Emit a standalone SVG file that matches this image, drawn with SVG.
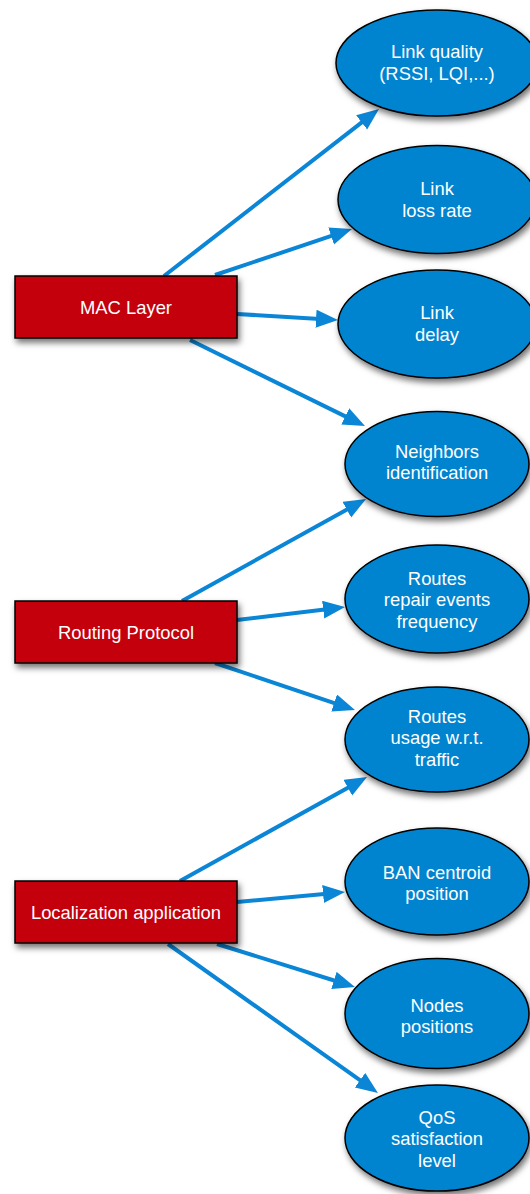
<svg xmlns="http://www.w3.org/2000/svg" width="530" height="1194" viewBox="0 0 530 1194">
  <defs>
    <filter id="shadow" x="-20%" y="-20%" width="140%" height="150%">
      <feDropShadow dx="2" dy="4" stdDeviation="3" flood-color="#000" flood-opacity="0.55"/>
    </filter>
    <marker id="arrow" markerUnits="userSpaceOnUse" markerWidth="24" markerHeight="20" refX="12" refY="9" orient="auto">
      <path d="M0,0 L22,9 L0,18 z" fill="#0b86d6"/>
    </marker>
  </defs>
  <style>
    .edge { stroke: #0b86d6; stroke-width: 4; fill: none; marker-end: url(#arrow); }
    .layer rect { fill: #c4000c; stroke: #000; stroke-width: 1.5; filter: url(#shadow); }
    .metric ellipse { fill: #0484d0; stroke: #000; stroke-width: 1.5; filter: url(#shadow); }
    text { font-family: "Liberation Sans", Arial, sans-serif; font-size: 18.4px; fill: #fff; text-anchor: middle; }
  </style>

  <!-- connectors: layer boxes to metric ellipses -->
  <g id="connectors">
    <line class="edge" x1="164" y1="276" x2="371.1" y2="115.1"/>
    <line class="edge" x1="215" y1="275" x2="342.5" y2="232.2"/>
    <line class="edge" x1="237" y1="314" x2="328.0" y2="319.4"/>
    <line class="edge" x1="190" y1="340" x2="356.0" y2="421.6"/>
    <line class="edge" x1="182" y1="601" x2="357.3" y2="503.8"/>
    <line class="edge" x1="237" y1="620" x2="335.1" y2="608.2"/>
    <line class="edge" x1="215" y1="663" x2="345.5" y2="706.8"/>
    <line class="edge" x1="180" y1="881" x2="358.3" y2="781.9"/>
    <line class="edge" x1="237" y1="902" x2="335.0" y2="892.9"/>
    <line class="edge" x1="217" y1="944" x2="345.4" y2="984.0"/>
    <line class="edge" x1="168" y1="944" x2="369.8" y2="1087.2"/>
  </g>

  <!-- layers -->
  <g id="mac-layer" class="layer">
    <rect x="15" y="276" width="222" height="62"/>
    <text x="126" y="313.5">MAC Layer</text>
  </g>
  <g id="routing-protocol" class="layer">
    <rect x="15" y="601" width="222" height="62"/>
    <text x="126" y="638.5">Routing Protocol</text>
  </g>
  <g id="localization-application" class="layer">
    <rect x="15" y="881" width="222" height="62"/>
    <text x="126" y="918.5">Localization application</text>
  </g>

  <!-- metrics -->
  <g id="link-quality" class="metric">
    <ellipse cx="437" cy="63" rx="101" ry="53"/>
    <text x="437" y="57.5">Link quality</text>
    <text x="437" y="79.5">(RSSI, LQI,...)</text>
  </g>
  <g id="link-loss-rate" class="metric">
    <ellipse cx="437" cy="199.5" rx="99" ry="54"/>
    <text x="437" y="194.5">Link</text>
    <text x="437" y="216.5">loss rate</text>
  </g>
  <g id="link-delay" class="metric">
    <ellipse cx="437" cy="324" rx="99" ry="54"/>
    <text x="437" y="318.5">Link</text>
    <text x="437" y="340.5">delay</text>
  </g>
  <g id="neighbors-identification" class="metric">
    <ellipse cx="437" cy="464" rx="92" ry="52.5"/>
    <text x="437" y="457.5">Neighbors</text>
    <text x="437" y="478.5">identification</text>
  </g>
  <g id="routes-repair" class="metric">
    <ellipse cx="437" cy="599" rx="92" ry="54"/>
    <text x="437" y="584.5">Routes</text>
    <text x="437" y="605.5">repair events</text>
    <text x="437" y="627.5">frequency</text>
  </g>
  <g id="routes-usage" class="metric">
    <ellipse cx="437" cy="739.5" rx="92" ry="52.5"/>
    <text x="437" y="722.5">Routes</text>
    <text x="437" y="743.5">usage w.r.t.</text>
    <text x="437" y="765.5">traffic</text>
  </g>
  <g id="ban-centroid" class="metric">
    <ellipse cx="437" cy="881.5" rx="92" ry="53.5"/>
    <text x="437" y="878.5">BAN centroid</text>
    <text x="437" y="899.5">position</text>
  </g>
  <g id="nodes-positions" class="metric">
    <ellipse cx="437" cy="1013.5" rx="92" ry="55"/>
    <text x="437" y="1011.5">Nodes</text>
    <text x="437" y="1032.5">positions</text>
  </g>
  <g id="qos-satisfaction" class="metric">
    <ellipse cx="437" cy="1138" rx="92" ry="53"/>
    <text x="437" y="1123.5">QoS</text>
    <text x="437" y="1144.5">satisfaction</text>
    <text x="437" y="1166.5">level</text>
  </g>
</svg>
